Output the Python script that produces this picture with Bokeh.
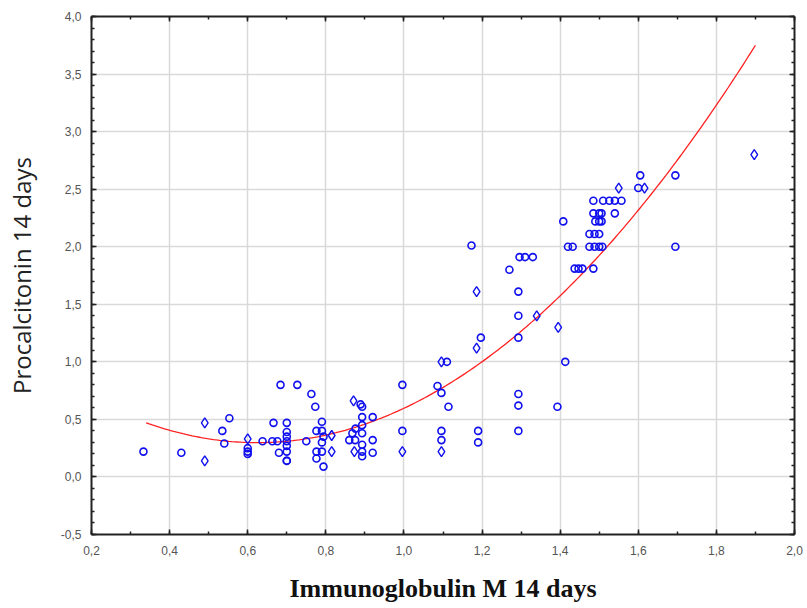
from bokeh.plotting import figure
from bokeh.models import (LinearAxis, SingleIntervalTicker, CustomJSTickFormatter,
                          Range1d)
from bokeh.embed import file_html
from bokeh.resources import INLINE
import numpy as np

# ---- data ----
circ_x = [0.333, 0.43, 0.535, 0.553, 0.54,
          0.60, 0.60, 0.60,
          0.638, 0.663, 0.676, 0.666, 0.684, 0.68,
          0.70, 0.70, 0.70, 0.70, 0.70, 0.70, 0.70, 0.70,
          0.727, 0.763, 0.773, 0.75,
          0.776, 0.79, 0.79, 0.794, 0.79, 0.776, 0.794, 0.776, 0.79,
          0.889, 0.893, 0.893, 0.92, 0.893, 0.876, 0.868, 0.893, 0.86, 0.875, 0.893,
          0.92, 0.893, 0.893, 0.92,
          0.996, 0.996,
          1.086, 1.096, 1.11, 1.114, 1.096, 1.096,
          1.173, 1.197, 1.19, 1.19,
          1.27, 1.296, 1.31, 1.33, 1.293, 1.293, 1.293, 1.293, 1.293, 1.293,
          1.408, 1.413, 1.393, 1.42, 1.432, 1.437, 1.447, 1.457,
          1.485, 1.51, 1.526, 1.54, 1.557,
          1.485, 1.50, 1.506, 1.54,
          1.49, 1.50, 1.506,
          1.475, 1.488, 1.50,
          1.475, 1.488, 1.50, 1.508, 1.485,
          1.60, 1.605, 1.695, 1.695]
circ_y = [0.22, 0.21, 0.40, 0.51, 0.29,
          0.25, 0.22, 0.20,
          0.31, 0.31, 0.31, 0.47, 0.80, 0.21,
          0.47, 0.39, 0.35, 0.31, 0.27, 0.22, 0.14, 0.14,
          0.80, 0.72, 0.61, 0.31,
          0.40, 0.40, 0.48, 0.35, 0.22, 0.22, 0.09, 0.16, 0.30,
          0.63, 0.61, 0.52, 0.52, 0.45, 0.42, 0.38, 0.38, 0.32, 0.32, 0.28,
          0.32, 0.22, 0.18, 0.21,
          0.80, 0.40,
          0.79, 0.73, 1.00, 0.61, 0.40, 0.32,
          2.01, 1.21, 0.40, 0.30,
          1.80, 1.91, 1.91, 1.91, 1.61, 1.40, 1.21, 0.72, 0.62, 0.40,
          2.22, 1.00, 0.61, 2.00, 2.00, 1.81, 1.81, 1.81,
          2.40, 2.40, 2.40, 2.40, 2.40,
          2.29, 2.29, 2.29, 2.29,
          2.22, 2.22, 2.22,
          2.11, 2.11, 2.11,
          2.00, 2.00, 2.00, 2.00, 1.81,
          2.51, 2.62, 2.62, 2.00]

diam_x = [0.49, 0.49, 0.60, 0.815, 0.815, 0.871, 0.873, 0.996,
          1.096, 1.096, 1.186, 1.186, 1.34, 1.395, 1.55, 1.616, 1.897]
diam_y = [0.47, 0.14, 0.33, 0.36, 0.22, 0.66, 0.22, 0.22,
          1.00, 0.22, 1.61, 1.12, 1.40, 1.30, 2.51, 2.51, 2.80]

# quadratic fit y = c0 + c1*x + c2*x^2
fit_coef = [1.127, -2.653, 2.123]
fit_range = [0.34, 1.90]

x_title = "Immunoglobulin M 14 days"
y_title = "Procalcitonin 14 days"

# ---- figure ----
p = figure(width=806, height=607, output_backend="svg", toolbar_location=None,
           x_range=Range1d(0.2, 2.0), y_range=Range1d(-0.5, 4.0),
           min_border_left=91, min_border_right=12, min_border_top=16,
           min_border_bottom=73, x_axis_location=None, y_axis_location=None)
p.outline_line_color = None
p.background_fill_color = "white"
p.border_fill_color = "white"

fmt = CustomJSTickFormatter(code="return tick.toFixed(1).replace('.', ',');")
empty = CustomJSTickFormatter(code="return '';")

def mk_axis(tick_interval, minor, labels, **kw):
    ax = LinearAxis(ticker=SingleIntervalTicker(interval=tick_interval, num_minor_ticks=minor),
                    formatter=labels, **kw)
    ax.axis_line_color = "#222222"
    ax.axis_line_width = 2
    ax.major_tick_in = 5
    ax.major_tick_out = 0
    ax.minor_tick_in = 3
    ax.minor_tick_out = 0
    ax.major_tick_line_color = "#222222"
    ax.minor_tick_line_color = "#222222"
    ax.major_tick_line_width = 1.5
    ax.minor_tick_line_width = 1.5
    ax.major_label_text_font = "Liberation Sans"
    ax.major_label_text_font_size = "12px"
    ax.major_label_text_color = "#555555"
    return ax

xb = mk_axis(0.2, 2, fmt, axis_label=x_title)
xb.major_label_standoff = 11
xb.axis_label_standoff = 16
xb.axis_label_text_font = "Liberation Serif"
xb.axis_label_text_font_style = "bold"
xb.axis_label_text_font_size = "26px"
xb.axis_label_text_color = "#111111"
p.add_layout(xb, "below")

yl = mk_axis(0.5, 5, fmt, axis_label=y_title)
yl.major_label_standoff = 10
yl.axis_label_standoff = 20
yl.axis_label_text_font = "Open Sans"
yl.axis_label_text_font_style = "normal"
yl.axis_label_text_font_size = "24px"
yl.axis_label_text_color = "#222222"
p.add_layout(yl, "left")

xt = mk_axis(0.2, 2, empty)
xt.major_label_standoff = 0
xt.major_label_text_font_size = "0px"
p.add_layout(xt, "above")

yr = mk_axis(0.5, 5, empty)
yr.major_label_standoff = 0
yr.major_label_text_font_size = "0px"
p.add_layout(yr, "right")

p.xgrid.ticker = SingleIntervalTicker(interval=0.2)
p.ygrid.ticker = SingleIntervalTicker(interval=0.5)
p.grid.grid_line_color = "#d9d9d9"
p.grid.grid_line_width = 1.5

# fitted curve
cx = np.linspace(fit_range[0], fit_range[1], 200)
cy = fit_coef[0] + fit_coef[1] * cx + fit_coef[2] * cx ** 2
p.line(cx, cy, line_color="#ff2020", line_width=1.3)

# points
p.scatter(circ_x, circ_y, marker="circle", size=7, fill_color=None,
          line_color="#1010ee", line_width=1.6)
p.scatter(diam_x, diam_y, marker="diamond", size=10, fill_color=None,
          line_color="#1010ee", line_width=1.4)

open("out.html", "w").write(file_html(p, INLINE))
